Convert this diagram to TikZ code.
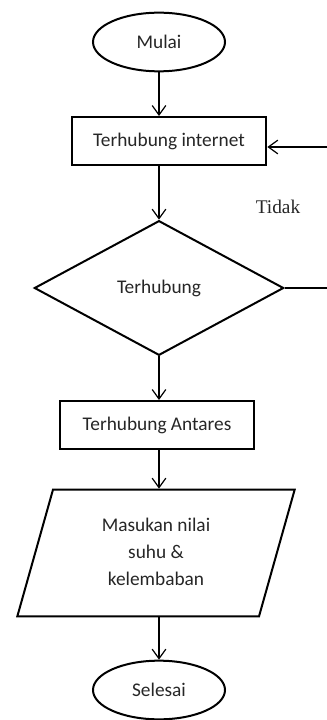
\documentclass[tikz,border=0pt]{standalone}
\usepackage{fontspec}
\setmainfont{Carlito}
\newfontfamily\serifrm{Liberation Serif}
\usetikzlibrary{arrows.meta, positioning, shapes.geometric}

\begin{document}
\begin{tikzpicture}[
      x=0.75pt, y=-0.75pt,
      every node/.style={font=\fontsize{14.5}{20.6}\selectfont, text=black!85},
      terminal/.style={ellipse, draw, line width=1.5pt, minimum width=99pt,
                       minimum height=44pt, inner sep=0pt},
      procbox/.style={rectangle, draw, line width=1.5pt, minimum height=36pt,
                      inner sep=0pt},
      decision/.style={diamond, draw, line width=1.5pt, minimum width=187pt,
                       minimum height=101pt, inner sep=0pt},
      iobox/.style={trapezium, trapezium left angle=66.6, trapezium right angle=113.4,
                    trapezium stretches body, draw, line width=1.5pt,
                    minimum width=208pt, minimum height=95pt, inner sep=0pt,
                    align=center},
      arrow/.style={-{Straight Barb[length=2.5mm, width=3.6mm]}, line width=0.9pt}
    ]
    \useasboundingbox (0,0) rectangle (327,720);

    \node[terminal] (mulai) at (159,42) {Mulai};
    \node[procbox, minimum width=146pt] (inet) at (169,141) {Terhubung internet};
    \node[decision] (cek) at (159,288) {Terhubung};
    \node[procbox, minimum width=146pt] (antares) at (157,425) {Terhubung Antares};
    \node[iobox] (input) at (156,553) {\raisebox{6pt}{\begin{tabular}{@{}c@{}}Masukan nilai\\suhu \&\\kelembaban\end{tabular}}};
    \node[terminal] (selesai) at (159,690) {Selesai};
    \node[font=\serifrm\fontsize{14.5}{17}\selectfont] (tidak) at (278,207) {Tidak};

    % loop back when not connected
    \coordinate (balik) at (345,288);

    \draw[arrow] (mulai) -- (mulai.south |- inet.north);
    \draw[arrow] (mulai.south |- inet.south) -- (cek);
    \draw[arrow] (cek) -- (cek.south |- antares.north);
    \draw[arrow] (cek.south |- antares.south) -- (cek.south |- input.north);
    \draw[arrow] (cek.south |- input.south) -- (selesai);
    \draw[arrow] (cek.east) -- (balik) |- ([yshift=-4.5pt]inet.east);
\end{tikzpicture}
\end{document}
